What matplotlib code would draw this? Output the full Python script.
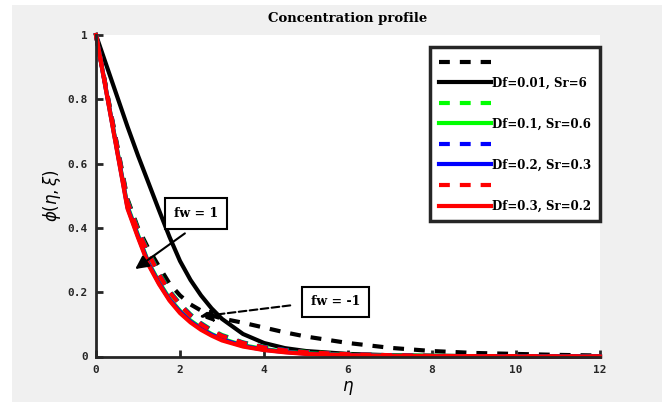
import matplotlib
matplotlib.use("Agg")
import matplotlib.pyplot as plt
from matplotlib.patches import Rectangle

# eta grid and concentration profiles
eta = [0, 0.75, 1, 1.25, 1.5, 1.75, 2, 2.25, 2.5, 2.75, 3, 3.5, 4, 4.5, 5, 6, 7, 8, 9, 10, 11, 12]

# fw = -1 (dashed)
phi_k_dash = [1, 0.49, 0.4, 0.335, 0.28, 0.227, 0.19, 0.162, 0.143, 0.128, 0.118, 0.105, 0.09, 0.075, 0.062, 0.042, 0.027, 0.017, 0.011, 0.008, 0.005, 0.003]
phi_g_dash = [1, 0.485, 0.395, 0.325, 0.26, 0.205, 0.164, 0.131, 0.104, 0.083, 0.067, 0.044, 0.03, 0.02, 0.014, 0.007, 0.004, 0.002, 0.001, 0.001, 0.0, 0.0]
phi_b_dash = [1, 0.482, 0.392, 0.322, 0.257, 0.202, 0.162, 0.129, 0.102, 0.081, 0.065, 0.043, 0.029, 0.02, 0.013, 0.007, 0.004, 0.002, 0.001, 0.001, 0.0, 0.0]
phi_r_dash = [1, 0.48, 0.39, 0.32, 0.255, 0.2, 0.16, 0.127, 0.1, 0.08, 0.064, 0.042, 0.028, 0.019, 0.013, 0.007, 0.004, 0.002, 0.001, 0.001, 0.0, 0.0]

# fw = 1 (solid)
phi_k_solid = [1, 0.715, 0.625, 0.54, 0.455, 0.372, 0.297, 0.238, 0.19, 0.15, 0.117, 0.07, 0.042, 0.026, 0.017, 0.008, 0.004, 0.002, 0.001, 0.001, 0.0, 0.0]
phi_g_solid = [1, 0.468, 0.378, 0.292, 0.232, 0.18, 0.142, 0.112, 0.089, 0.07, 0.055, 0.035, 0.023, 0.015, 0.01, 0.005, 0.003, 0.002, 0.001, 0.0, 0.0, 0.0]
phi_b_solid = [1, 0.464, 0.374, 0.289, 0.228, 0.177, 0.139, 0.109, 0.086, 0.068, 0.053, 0.033, 0.021, 0.014, 0.009, 0.004, 0.002, 0.001, 0.001, 0.0, 0.0, 0.0]
phi_r_solid = [1, 0.46, 0.37, 0.285, 0.225, 0.174, 0.135, 0.106, 0.083, 0.065, 0.05, 0.031, 0.02, 0.013, 0.008, 0.004, 0.002, 0.001, 0.001, 0.0, 0.0, 0.0]

labels = ["Df=0.01, Sr=6", "Df=0.1, Sr=0.6", "Df=0.2, Sr=0.3", "Df=0.3, Sr=0.2"]
colors = ["black", "#00ff00", "blue", "red"]
dashed = [phi_k_dash, phi_g_dash, phi_b_dash, phi_r_dash]
solid = [phi_k_solid, phi_g_solid, phi_b_solid, phi_r_solid]

serif = ["DejaVu Serif"]
dark = "#262626"

fig = plt.figure(figsize=(6.65, 4.07), dpi=100, facecolor="white")
fig.patches.append(Rectangle((12 / 665, 5 / 407), 650 / 665, 397 / 407,
                             transform=fig.transFigure, facecolor="#f0f0f0",
                             edgecolor="none", zorder=-10))
ax = fig.add_axes([96 / 665, 50.5 / 407, 504 / 665, 321.5 / 407])

handles, leg_labels = [], []
for c, d, s, lab in zip(colors, dashed, solid, labels):
    h1, = ax.plot(eta, d, "--", color=c, lw=3, dashes=(2.6, 2.4), clip_on=False)
    h2, = ax.plot(eta, s, "-", color=c, lw=3, clip_on=False)
    handles += [h1, h2]
    leg_labels += ["", lab]

ax.set_xlim(0, 12)
ax.set_ylim(0, 1)
ax.set_xticks([0, 2, 4, 6, 8, 10, 12])
ax.set_yticks([0, 0.2, 0.4, 0.6, 0.8, 1])
ax.set_yticklabels(["0", "0.2", "0.4", "0.6", "0.8", "1"])
for sp in ["top", "right"]:
    ax.spines[sp].set_visible(False)
for sp in ["left", "bottom"]:
    ax.spines[sp].set_linewidth(2)
    ax.spines[sp].set_color(dark)
ax.tick_params(direction="in", length=5, width=2, color=dark, labelcolor=dark,
               labelsize=8, pad=6)
for t in ax.get_xticklabels() + ax.get_yticklabels():
    t.set_fontweight("bold")
    t.set_family("DejaVu Sans Mono")

ax.set_title("Concentration profile", family=serif, fontweight="bold", fontsize=9.5, pad=9.5)
ax.set_xlabel(r"$\eta$", fontsize=12, labelpad=3)
ax.set_ylabel(r"$\phi(\eta,\xi)$", fontsize=12, labelpad=3)

leg = ax.legend(handles, leg_labels, loc="upper right", bbox_to_anchor=(1.0, 0.963),
                borderaxespad=0, fancybox=False, framealpha=1, handlelength=4.4,
                handletextpad=0.1, labelspacing=0.64, borderpad=0.75,
                prop={"family": serif, "weight": "bold", "size": 8.5})
leg.get_frame().set_edgecolor(dark)
leg.get_frame().set_linewidth(2.5)

box = dict(boxstyle="square,pad=0.7", facecolor="white", edgecolor="black", lw=1.5)
ax.text(2.38, 0.445, "fw = 1", ha="center", va="center", family=serif,
        fontweight="bold", fontsize=9, bbox=box)
ax.annotate("", xy=(0.88, 0.267), xytext=(2.17, 0.388),
            arrowprops=dict(arrowstyle="-|>", color="black", lw=1.5, mutation_scale=20))
ax.text(5.71, 0.17, "fw = -1", ha="center", va="center", family=serif,
        fontweight="bold", fontsize=9, bbox=box)
ax.annotate("", xy=(2.4, 0.123), xytext=(4.69, 0.16),
            arrowprops=dict(arrowstyle="-|>", color="black", lw=1.5, ls="--",
                            mutation_scale=20))

fig.savefig("out.png", dpi=100, facecolor="white")
